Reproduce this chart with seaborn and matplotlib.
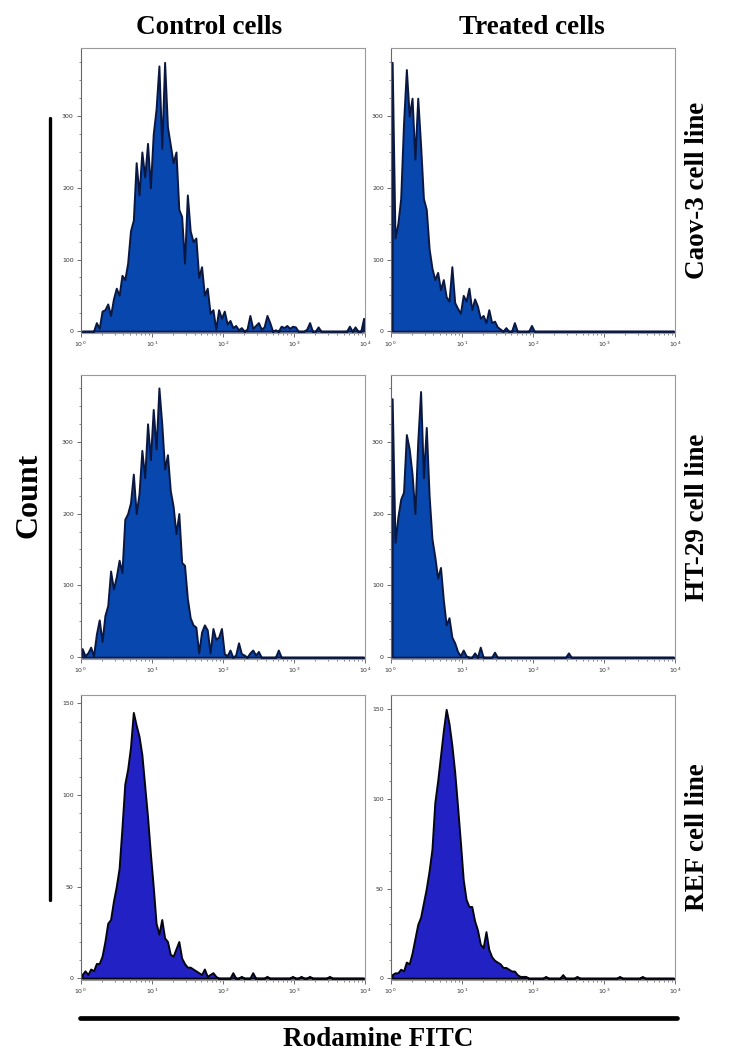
import numpy as np
import matplotlib
matplotlib.use("Agg")
import matplotlib.pyplot as plt
import matplotlib.ticker as mticker
from matplotlib.lines import Line2D
import seaborn as sns

sns.set_style("white")
plt.rcParams['font.family'] = ['DejaVu Sans']

# 100 log-spaced channels between 10^0 and 10^4 (0.04 decade each)
n_bins = 100
channels = 10 ** (0.02 + 0.04 * np.arange(n_bins))

# counts per channel
caov3_control = [0, 0, 0, 0, 0, 12, 4, 28, 30, 38, 22, 45, 60, 50, 78, 72, 95, 140, 155, 235,
                 190, 250, 215, 262, 200, 275, 310, 370, 255, 375, 285, 260, 235, 250, 170, 160, 95, 190, 140, 125,
                 130, 75, 90, 50, 60, 25, 30, 3, 30, 18, 28, 10, 15, 5, 8, 2, 5, 0, 3, 22,
                 4, 8, 12, 3, 6, 22, 12, 0, 2, 0, 7, 5, 8, 4, 7, 6, 0, 0, 0, 3,
                 12, 0, 0, 6, 0, 0, 0, 0, 0, 0, 0, 0, 0, 0, 7, 0, 6, 0, 0, 18]
caov3_treated = [375, 130, 150, 185, 290, 365, 300, 325, 240, 325, 260, 185, 170, 115, 88, 72, 82, 58, 72, 48,
                 42, 90, 40, 32, 25, 50, 42, 60, 30, 45, 35, 18, 22, 12, 30, 12, 14, 6, 3, 0,
                 5, 0, 0, 12, 0, 0, 0, 0, 0, 8, 0, 0, 0, 0, 0, 0, 0, 0, 0, 0,
                 0, 0, 0, 0, 0, 0, 0, 0, 0, 0, 0, 0, 0, 0, 0, 0, 0, 0, 0, 0,
                 0, 0, 0, 0, 0, 0, 0, 0, 0, 0, 0, 0, 0, 0, 0, 0, 0, 0, 0, 0]
ht29_control = [12, 2, 6, 14, 2, 32, 52, 22, 58, 72, 120, 95, 112, 135, 118, 192, 200, 215, 255, 200,
                228, 288, 250, 325, 275, 345, 290, 375, 325, 262, 282, 232, 210, 172, 200, 132, 128, 82, 55, 45,
                42, 6, 35, 45, 38, 6, 40, 25, 28, 40, 5, 2, 10, 0, 3, 20, 5, 3, 0, 6,
                10, 3, 8, 0, 0, 0, 0, 0, 0, 10, 0, 0, 0, 0, 0, 0, 0, 0, 0, 0,
                0, 0, 0, 0, 0, 0, 0, 0, 0, 0, 0, 0, 0, 0, 0, 0, 0, 0, 0, 0]
ht29_treated = [360, 160, 195, 220, 230, 310, 290, 255, 200, 300, 370, 250, 320, 225, 165, 140, 110, 125, 80, 45,
                55, 28, 20, 8, 2, 10, 2, 0, 0, 6, 0, 14, 0, 0, 0, 0, 7, 0, 0, 0,
                0, 0, 0, 0, 0, 0, 0, 0, 0, 0, 0, 0, 0, 0, 0, 0, 0, 0, 0, 0,
                0, 0, 6, 0, 0, 0, 0, 0, 0, 0, 0, 0, 0, 0, 0, 0, 0, 0, 0, 0,
                0, 0, 0, 0, 0, 0, 0, 0, 0, 0, 0, 0, 0, 0, 0, 0, 0, 0, 0, 0]
ref_control = [2, 4, 2, 5, 4, 8, 8, 12, 20, 30, 32, 42, 50, 60, 82, 106, 114, 126, 145, 138,
               132, 122, 105, 88, 68, 50, 30, 24, 32, 22, 20, 13, 12, 16, 20, 11, 8, 6, 6, 5,
               4, 3, 2, 5, 1, 2, 3, 1, 0, 0, 0, 0, 0, 3, 0, 0, 1, 0, 0, 0,
               3, 0, 0, 0, 0, 1, 0, 0, 0, 0, 0, 0, 0, 0, 1, 0, 0, 1, 0, 0,
               1, 0, 0, 0, 0, 0, 0, 1, 0, 0, 0, 0, 0, 0, 0, 0, 0, 0, 0, 0]
ref_treated = [2, 3, 3, 5, 4, 9, 8, 14, 22, 30, 34, 42, 50, 60, 72, 98, 110, 124, 138, 150,
               142, 130, 115, 96, 76, 55, 44, 40, 40, 32, 27, 19, 17, 26, 16, 12, 10, 9, 8, 6,
               6, 5, 4, 4, 2, 1, 1, 1, 0, 0, 0, 0, 0, 0, 1, 0, 0, 0, 0, 0,
               2, 0, 0, 0, 0, 1, 0, 0, 0, 0, 0, 0, 0, 0, 0, 0, 0, 0, 0, 0,
               1, 0, 0, 0, 0, 0, 0, 0, 1, 0, 0, 0, 0, 0, 0, 0, 0, 0, 0, 0]

col_titles = ["Control cells", "Treated cells"]
row_titles = ["Caov-3 cell line", "HT-29 cell line", "REF cell line"]
decade_labels = [r"$10^{0}$", r"$10^{1}$", r"$10^{2}$", r"$10^{3}$", r"$10^{4}$"]

panels = [[caov3_control, caov3_treated],
          [ht29_control, ht29_treated],
          [ref_control, ref_treated]]

fig = plt.figure(figsize=(7.36, 10.58), dpi=100)
W, H = 736, 1058

# axes boxes in pixels: (left, right) and (top, bottom)
col_x = [(80.7, 365), (390.7, 675)]
row_y = [(48, 333), (375, 659), (695, 980)]
ytops = [[395, 395], [393, 393], [154.5, 158]]

blue_fill = "#0747AE"
blue_edge = "#0A1740"
ref_fill = "#2222C4"
ref_edge = "#050512"

for r in range(3):
    for c in range(2):
        x0, x1 = col_x[c]
        y0, y1 = row_y[r]
        ax = fig.add_axes([x0 / W, 1 - y1 / H, (x1 - x0) / W, (y1 - y0) / H])
        fc, ec = (ref_fill, ref_edge) if r == 2 else (blue_fill, blue_edge)
        sns.histplot(x=channels, weights=panels[r][c], bins=n_bins, binrange=(0, 4),
                     log_scale=True, element="poly", fill=True, alpha=1,
                     facecolor=fc, edgecolor=ec, linewidth=1.4, ax=ax)
        ax.set_xlim(1, 10000)
        if r == 2:
            ax.set_ylim(-1, ytops[r][c])
            ax.yaxis.set_major_locator(mticker.MultipleLocator(50))
            ax.yaxis.set_minor_locator(mticker.MultipleLocator(10))
        else:
            ax.set_ylim(-2.5, ytops[r][c])
            ax.yaxis.set_major_locator(mticker.MultipleLocator(100))
            ax.yaxis.set_minor_locator(mticker.MultipleLocator(25))
        ax.set_xticks([1, 10, 100, 1000, 10000])
        ax.set_xticklabels(decade_labels)
        ax.xaxis.set_minor_locator(mticker.LogLocator(base=10, subs=range(2, 10)))
        ax.xaxis.set_minor_formatter(mticker.NullFormatter())
        ax.set_xlabel("")
        ax.set_ylabel("")
        ax.tick_params(which="major", direction="out", length=3, width=0.6,
                       color="#555555", labelsize=4.5, labelcolor="#333333", pad=2,
                       bottom=True, left=True)
        ax.tick_params(which="minor", direction="out", length=1.6, width=0.5,
                       color="#555555", bottom=True, left=True)
        for s in ax.spines.values():
            s.set_color("#9a9a9a")
            s.set_linewidth(0.8)
        ax.spines["left"].set_color("#666666")

title_font = dict(family="Liberation Serif", fontweight="bold", fontsize=19.5, color="black")
fig.text(209 / W, 1 - 27 / H, col_titles[0], ha="center", va="center", **title_font)
fig.text(532 / W, 1 - 27 / H, col_titles[1], ha="center", va="center", **title_font)
for r, name in enumerate(row_titles):
    yc = (row_y[r][0] + row_y[r][1]) / 2
    fig.text(697 / W, 1 - yc / H, name, rotation=90, ha="center", va="center", **title_font)

count_font = dict(title_font, fontsize=23)
fig.text(29 / W, 1 - 495 / H, "Count", rotation=90, ha="center", va="center", **count_font)
fig.text(378 / W, 1 - 1039 / H, "Rodamine FITC", ha="center", va="center", **title_font)

fig.add_artist(Line2D([50 / W, 50 / W], [1 - 118 / H, 1 - 900 / H],
                      transform=fig.transFigure, color="black", linewidth=2.4))
fig.add_artist(Line2D([80 / W, 677 / W], [1 - 1018 / H, 1 - 1018 / H],
                      transform=fig.transFigure, color="black", linewidth=3.4))

fig.savefig("out.png", dpi=100)
